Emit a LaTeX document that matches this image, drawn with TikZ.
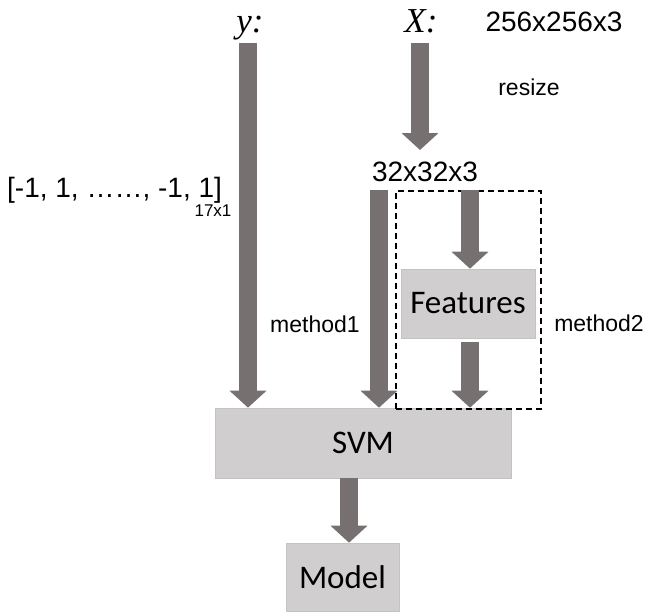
\documentclass[tikz,border=0pt]{standalone}
\usepackage{fontspec}
\setmainfont{Liberation Sans}
\newfontfamily\serifit{Liberation Serif}
\newfontfamily\calib{Carlito}
\usetikzlibrary{arrows.meta}
\definecolor{arrowgrey}{HTML}{767170}
\definecolor{boxgrey}{HTML}{D0CECE}
\tikzset{
  bigarrow/.style={draw=arrowgrey, line width=18pt, -{Triangle[width=36pt,length=17pt]}},
  greybox/.style={fill=boxgrey, draw=boxgrey!85!gray, line width=0.6pt, inner sep=0pt, font=\calib\fontsize{33}{36}\selectfont},
  lbl/.style={inner sep=0pt, font=\fontsize{28}{32}\selectfont},
  smalllbl/.style={inner sep=0pt, font=\fontsize{23}{26}\selectfont},
  varlbl/.style={inner sep=0pt, font=\serifit\itshape\fontsize{35}{38}\selectfont}
}
\begin{document}
\begin{tikzpicture}[x=1pt,y=-1pt]
\useasboundingbox (0,0) rectangle (659,613);
% labels
\node[varlbl, anchor=base] (yl) at (250,32) {y:};
\node[varlbl, anchor=base] (Xl) at (421,32) {X:};
\node[lbl] (dim1) at (554,22) {256x256x3};
\node[smalllbl] (rs) at (529,87) {resize};
\node[lbl] (dim2) at (425,172) {32x32x3};
\node[lbl, anchor=west] (vec) at (7,190) {[-1, 1, ……, -1, 1]};
\node[inner sep=0pt, font=\fontsize{17}{19}\selectfont] (sub) at (213,211) {17x1};
\node[smalllbl] (m1) at (315,324) {method1};
\node[smalllbl] (m2) at (599,323) {method2};
% boxes
\node[greybox, minimum width=134pt, minimum height=69pt] (feat) at (468,303.5) {Features};
\node[greybox, minimum width=296pt, minimum height=70pt] (svm) at (363,443) {SVM};
\node[greybox, minimum width=113pt, minimum height=68pt] (model) at (342.5,577) {Model};
\node[draw, dashed, dash pattern=on 6pt off 4pt, line width=1.6pt, minimum width=145pt, minimum height=218pt, inner sep=0pt] (dbox) at (468.5,300) {};
% arrow anchors
\coordinate (ys) at (248,43);
\coordinate (Xs) at (420,43);
\coordinate (Xe) at (420,150);
\coordinate (m1s) at (379,190);
\coordinate (fs) at (470,190);
\coordinate (fo) at (470,342);
% arrows
\draw[bigarrow] (ys) -- (ys |- svm.north);
\draw[bigarrow] (Xs) -- (Xe);
\draw[bigarrow] (m1s) -- (m1s |- svm.north);
\draw[bigarrow] (fs) -- (fs |- feat.north);
\draw[bigarrow] (fo) -- (fo |- svm.north);
\draw[bigarrow] (svm.south -| 349,0) -- (model.north -| 349,0);
\end{tikzpicture}
\end{document}
